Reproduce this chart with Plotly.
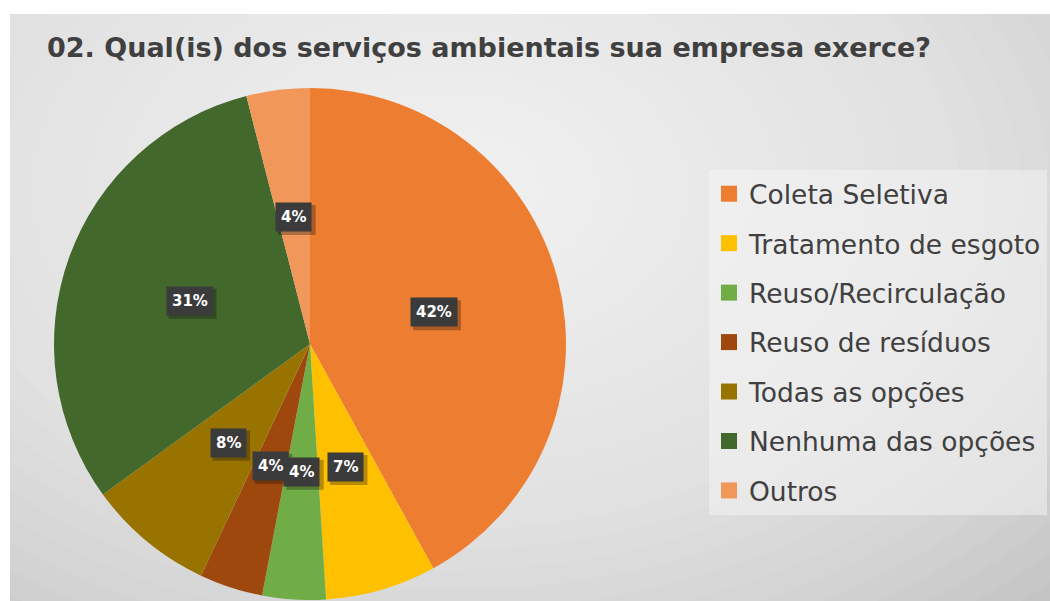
import math
import plotly.graph_objects as go

W, H = 1050, 601

labels = ['Coleta Seletiva', 'Tratamento de esgoto', 'Reuso/Recirculação', 'Reuso de resíduos',
          'Todas as opções', 'Nenhuma das opções', 'Outros']
values = [42, 7, 4, 4, 8, 31, 4]
colors = ['#ED7D31', '#FFC000', '#70AD47', '#9E480E', '#997300', '#43682B', '#F1975A']
title = '02. Qual(is) dos serviços ambientais sua empresa exerce?'

# pie placement in pixels
cx, cy, r = 310, 344, 256


def px(x):
    return x / W


def py(y):
    return 1 - y / H


fig = go.Figure()

fig.add_trace(go.Pie(
    labels=labels, values=values, sort=False, direction='clockwise', rotation=0,
    marker=dict(colors=colors, line=dict(width=0)),
    textinfo='none', showlegend=False,
    domain=dict(x=[px(cx - r), px(cx + r)], y=[py(cy + r), py(cy - r)]),
))

# legend entries (separate traces so the rows can be spaced like the original)
for name, c in zip(labels, colors):
    fig.add_trace(go.Scatter(x=[None], y=[None], mode='markers', name=name, legendgroup=name,
                             marker=dict(symbol='square', size=16, color=c)))

# percentage labels at half radius along each slice's middle angle
total = sum(values)
annotations = []
shapes = []
label_size = 15
cum = 0
for v in values:
    theta = 2 * math.pi * (cum + v / 2) / total
    cum += v
    lx = cx + 0.5 * r * math.sin(theta)
    ly = cy - 0.5 * r * math.cos(theta)
    pct = round(v / total * 100)
    annotations.append(dict(x=px(lx), y=py(ly), xref='paper', yref='paper', text='<b>%d%%</b>' % pct,
                            xanchor='center', yanchor='middle',
                            showarrow=False, bgcolor='#3b3b3b', borderpad=5,
                            font=dict(family='DejaVu Sans', size=label_size, color='white')))
    # drop shadow behind the label box
    hw = (label_size * (0.696 * len(str(pct)) + 1.0) + 12) / 2
    shapes.append(dict(type='rect', xref='paper', yref='paper', xsizemode='pixel', ysizemode='pixel',
                       xanchor=px(lx), yanchor=py(ly), x0=-hw + 3, x1=hw + 3, y0=-15 - 3, y1=15 - 3,
                       fillcolor='rgba(0,0,0,0.28)', line=dict(width=0), layer='above'))

# radial grey background gradient (stacked translucent ellipses)
gx, gy = 450, 190
n = 30
for i in range(n):
    f = 1 - i / n
    rx, ry = 900 * f, 600 * f
    shapes.insert(0, dict(type='circle', xref='x', yref='y', x0=gx - rx, x1=gx + rx, y0=gy - ry, y1=gy + ry,
                          fillcolor='white', opacity=0.0643, line=dict(width=0), layer='below'))

fig.update_layout(
    width=W, height=H,
    margin=dict(l=0, r=0, t=0, b=0, autoexpand=False),
    paper_bgcolor='white', plot_bgcolor='#bdbdbd',
    xaxis=dict(visible=False, domain=[px(10), 1], range=[10, W], fixedrange=True),
    yaxis=dict(visible=False, domain=[0, py(14)], range=[H, 14], fixedrange=True),
    title=dict(text='<b>' + title + '</b>', x=px(47), xanchor='left', xref='paper',
               y=py(48), yanchor='middle', yref='container',
               font=dict(family='DejaVu Sans', size=27, color='#404040')),
    legend=dict(x=px(709), xanchor='left', y=py(170), yanchor='top',
                bgcolor='rgba(245,245,245,0.5)', tracegroupgap=12,
                font=dict(family='DejaVu Sans', size=26.5, color='#404040')),
    shapes=shapes,
    annotations=annotations,
)

fig.write_html('out.html', config={'displayModeBar': False},
               post_script="document.body.style.margin='0';")
